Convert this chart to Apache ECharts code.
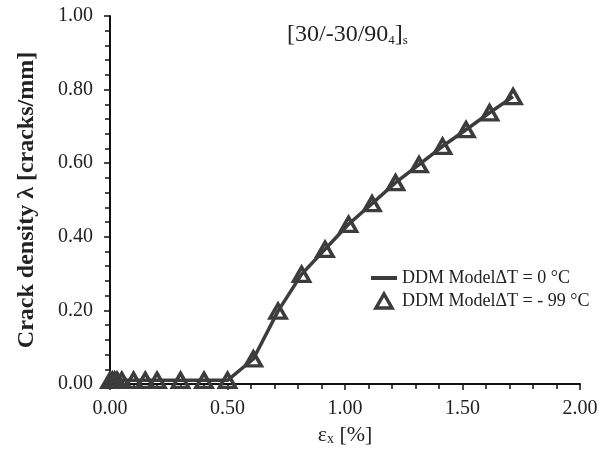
<!DOCTYPE html>
<html>
<head>
<meta charset="utf-8">
<script src="https://cdn.jsdelivr.net/npm/echarts@6/dist/echarts.min.js"></script>
<style>
  html, body { margin: 0; padding: 0; background: #fff; }
  #chart { width: 611px; height: 451px; }
</style>
</head>
<body>
<div id="chart"></div>
<script>
(function() {

    // strain [%] and crack density [cracks/mm]
    var strain = [0, 0.01, 0.02, 0.03, 0.05, 0.1, 0.15, 0.2, 0.3, 0.4, 0.5,
                  0.61, 0.715, 0.815, 0.915, 1.015, 1.115, 1.215, 1.315, 1.415, 1.515, 1.615, 1.715];
    var density0 = [0.01, 0.01, 0.01, 0.01, 0.01, 0.01, 0.01, 0.01, 0.01, 0.01, 0.01,
                    0.068, 0.198, 0.298, 0.366, 0.434, 0.49, 0.547, 0.596, 0.646, 0.691, 0.737, 0.781];
    var density99 = [0.01, 0.01, 0.01, 0.01, 0.01, 0.01, 0.01, 0.01, 0.01, 0.01, 0.01,
                     0.068, 0.198, 0.298, 0.366, 0.434, 0.49, 0.547, 0.596, 0.646, 0.691, 0.737, 0.781];
    var seriesNames = ['DDM Model\u0394T = 0 \u00b0C', 'DDM Model\u0394T = - 99 \u00b0C'];

    var ink = '#3c3c3c';
    var font = 'Liberation Serif';

    function pairs(xs, ys) {
        return xs.map(function(x, i) { return [x, ys[i]]; });
    }

    var myChart = echarts.init(document.getElementById('chart'));
    var option = {
        animation: false,
        backgroundColor: '#fff',
        textStyle: { fontFamily: font, color: '#222' },
        title: {
            text: '{a|[30/-30/90}{b|4}{a|]}{b|s}',
            left: 282,
            top: 18,
            textStyle: {
                fontWeight: 'normal',
                rich: {
                    a: { fontFamily: font, fontSize: 24, fontWeight: 'normal', color: '#222', verticalAlign: 'bottom' },
                    b: { fontFamily: font, fontSize: 13, fontWeight: 'normal', color: '#222', padding: [10, 0, 0, 0], verticalAlign: 'bottom' }
                }
            }
        },
        grid: { left: 110, right: 31, top: 16, bottom: 66 },
        legend: {
            orient: 'vertical',
            left: 366,
            top: 264,
            itemWidth: 26,
            itemHeight: 14,
            itemGap: 5,
            textStyle: { fontFamily: font, fontSize: 18, color: '#222' },
            data: [
                { name: seriesNames[0], icon: 'path://M0,0 L26,0 L26,4 L0,4 Z', itemStyle: { color: ink, borderWidth: 0 } },
                { name: seriesNames[1], icon: 'path://M8,0 L16,14 L0,14 Z', itemStyle: { color: '#fff', borderColor: ink, borderWidth: 3.5 } }
            ]
        },
        xAxis: {
            type: 'value',
            min: 0,
            max: 2,
            interval: 0.5,
            name: '{e|\u03b5}{s|x}{e| [%]}',
            nameLocation: 'middle',
            nameGap: 40,
            nameTextStyle: {
                rich: {
                    e: { fontFamily: font, fontSize: 22, color: '#222', verticalAlign: 'bottom' },
                    s: { fontFamily: font, fontSize: 14, color: '#222', padding: [6, 0, 0, 0], verticalAlign: 'bottom' }
                }
            },
            axisLine: { lineStyle: { color: '#111', width: 2 } },
            axisTick: { length: 6, lineStyle: { color: '#111', width: 1.5 } },
            minorTick: { show: true, splitNumber: 5, length: 5, lineStyle: { color: '#111', width: 1.5 } },
            splitLine: { show: false },
            axisLabel: {
                fontFamily: font, fontSize: 20, color: '#222', margin: 15,
                formatter: function(v) { return v.toFixed(2); }
            }
        },
        yAxis: {
            type: 'value',
            min: 0,
            max: 1,
            interval: 0.2,
            name: 'Crack density \u03bb [cracks/mm]',
            nameLocation: 'middle',
            nameGap: 71,
            nameTextStyle: { fontFamily: font, fontSize: 24, fontWeight: 'bold', color: '#222' },
            axisLine: { show: true, lineStyle: { color: '#111', width: 2 } },
            axisTick: { length: 6, lineStyle: { color: '#111', width: 1.5 } },
            minorTick: { show: true, splitNumber: 5, length: 5, lineStyle: { color: '#111', width: 1.5 } },
            splitLine: { show: false },
            axisLabel: {
                fontFamily: font, fontSize: 20, color: '#222', margin: 17,
                formatter: function(v) { return v.toFixed(2); }
            }
        },
        series: [
            {
                name: seriesNames[0],
                type: 'line',
                data: pairs(strain, density0),
                symbol: 'none',
                lineStyle: { color: ink, width: 3.5 },
                itemStyle: { color: ink },
                z: 2
            },
            {
                name: seriesNames[1],
                type: 'scatter',
                data: pairs(strain, density99),
                symbol: 'triangle',
                symbolSize: [16, 14],
                itemStyle: { color: 'rgba(255,255,255,0)', borderColor: ink, borderWidth: 3.5, opacity: 1 },
                z: 3
            }
        ]
    };
    myChart.setOption(option);
})();
</script>
</body>
</html>
